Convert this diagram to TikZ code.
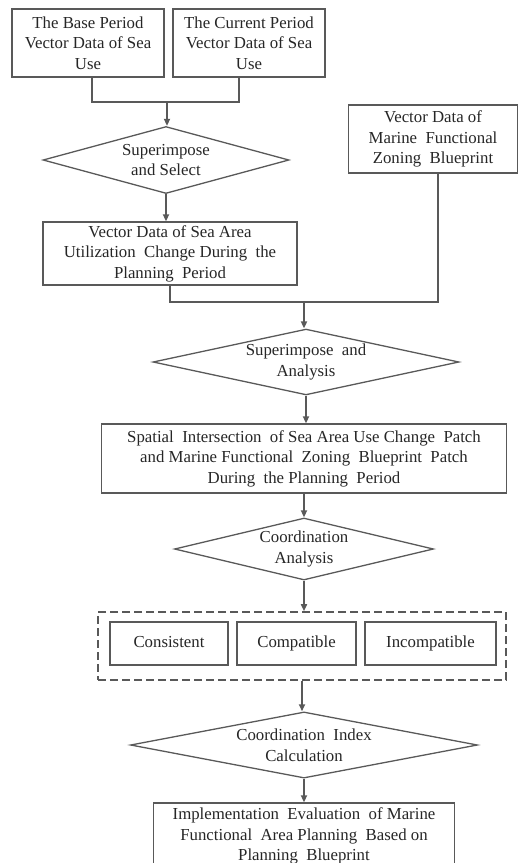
\documentclass[tikz,border=0pt]{standalone}
\usepackage{fontspec}
\setmainfont{Liberation Serif}
\usetikzlibrary{shapes.geometric,arrows.meta}
\definecolor{ln}{HTML}{595959}
\definecolor{tx}{HTML}{262626}
\begin{document}
\begin{tikzpicture}[x=1pt,y=-1pt,
  txt/.style={text=tx,font=\fontsize{16.8}{20.5}\selectfont,align=center,inner sep=0pt},
  box/.style={txt,draw=ln,line width=1.3pt,rectangle},
  cbox/.style={box,text height=11.5pt,text depth=3.8pt},
  dia/.style={txt,draw=ln,line width=1.3pt,diamond,aspect=4},
  grpbox/.style={draw=ln,line width=1.6pt,dash pattern=on 8pt off 4pt,rectangle,inner sep=0pt},
  conn/.style={draw=ln,line width=1.6pt},
  arr/.style={conn,-{Triangle[length=7pt,width=6pt]}}]
\useasboundingbox (0,0) rectangle (518,863);
\clip (0,0) rectangle (518,863);

\node[box,minimum width=152pt,minimum height=68pt] (b1) at (88,43) {The Base Period\\Vector Data of Sea\\Use};
\node[box,minimum width=152pt,minimum height=68pt] (b2) at (249,43) {The Current Period\\Vector Data of Sea\\Use};
\node[dia,minimum width=246pt,minimum height=67pt] (d1) at (166,160) {Superimpose\\and Select};
\node[box,minimum width=254pt,minimum height=63pt] (b3) at (170,253.5) {Vector Data of Sea Area\\Utilization\ \ Change During\ \ the\\Planning\ \ Period};
\node[box,minimum width=169pt,minimum height=68pt] (b4) at (433,139) {Vector Data of\\Marine\ \ Functional\\Zoning\ \ Blueprint};
\node[dia,minimum width=306pt,minimum height=65pt] (d2) at (306,362) {Superimpose\ \ and\\Analysis};
\node[box,minimum width=405pt,minimum height=69pt] (b5) at (304,458.5) {Spatial\ \ Intersection\ \ of Sea Area Use Change\ \ Patch\\and Marine Functional\ \ Zoning\ \ Blueprint\ \ Patch\\During\ \ the Planning\ \ Period};
\node[dia,minimum width=259pt,minimum height=62pt] (d3) at (304,549) {Coordination\\Analysis};
\node[grpbox,minimum width=408pt,minimum height=68pt] (grp) at (302,646) {};
\node[cbox,minimum width=118pt,minimum height=43pt] (c1) at (169,643.5) {Consistent};
\node[cbox,minimum width=119pt,minimum height=43pt] (c2) at (296.5,643.5) {Compatible};
\node[cbox,minimum width=131pt,minimum height=43pt] (c3) at (430.5,643.5) {Incompatible};
\node[dia,minimum width=347pt,minimum height=56pt] (d4) at (304,745) {Coordination\ \ Index\\Calculation};
\node[box,minimum width=301pt,minimum height=66pt] (b6) at (304,836) {Implementation\ \ Evaluation\ \ of Marine\\Functional\ \ Area Planning\ \ Based on\\Planning\ \ Blueprint};

\coordinate (j1) at (167,102);
\coordinate (j2) at (304,302);
\draw[conn] ([xshift=4pt]b1.south) |- (j1) -| ([xshift=-10pt]b2.south);
\draw[arr] (j1) -- (j1 |- d1.north);
\draw[arr] (d1.south) -- (d1.south |- b3.north);
\draw[conn] (b3.south) |- (j2) -| ([xshift=5pt]b4.south);
\draw[arr] (j2) -- (j2 |- d2.north);
\draw[arr] (d2.south) -- (d2.south |- b5.north);
\draw[arr] (b5.south) -- (b5.south |- d3.north);
\draw[arr] (d3.south) -- (d3.south |- grp.north);
\draw[arr] (grp.south) -- (grp.south |- d4.north);
\draw[arr] (d4.south) -- (d4.south |- b6.north);
\end{tikzpicture}
\end{document}
